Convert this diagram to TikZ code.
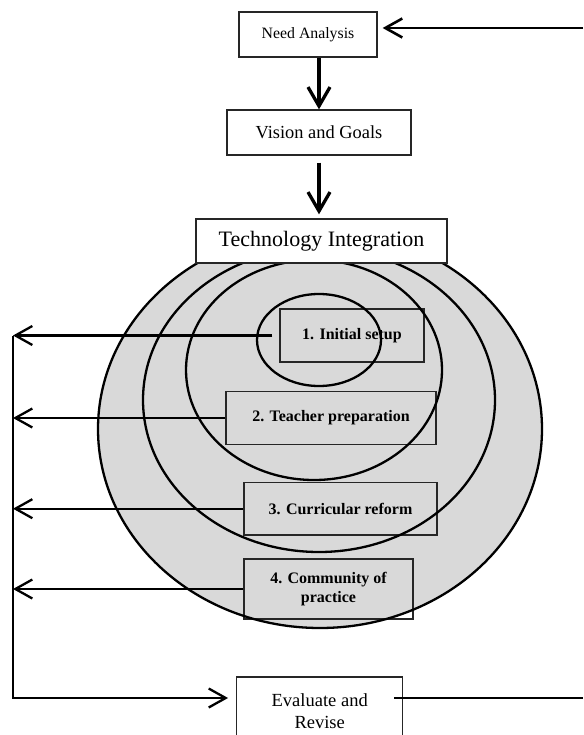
\documentclass[tikz,border=0pt]{standalone}
\usepackage{fontspec}
\setmainfont{Liberation Serif}
\usetikzlibrary{arrows.meta}
\tikzset{
plainbox/.style={draw=black!85, line width=1.3pt, inner sep=0pt, align=center},
stagebox/.style={plainbox, font=\fontsize{16}{18.3}\selectfont\bfseries},
flow/.style={line width=3.3pt, -{Straight Barb[length=19pt,width=22pt]}},
back/.style={line width=2.3pt, -{Straight Barb[length=17pt,width=19pt]}},
ring/.style={line width=2.3pt}
}

\begin{document}
\begin{tikzpicture}[x=1pt,y=-1pt]
\useasboundingbox (0,0) rectangle (583,735);
% grey disc:
\fill[black!15] (320,429) ellipse [x radius=222pt, y radius=199pt];
% stages:
\node[stagebox, minimum width=144pt, minimum height=53pt] (s1) at (352,335.5) {1. Initial setup};
\node[stagebox, minimum width=210pt, minimum height=52.6pt] (s2) at (331,418) {2. Teacher preparation};
\node[stagebox, minimum width=193pt, minimum height=52.7pt] (s3) at (340.5,508.7) {3. Curricular reform};
\node[stagebox, minimum width=169pt, minimum height=60pt] (s4) at (328.5,589) {4. Community of\\practice};
% rings:
\draw[ring] (320,429) ellipse [x radius=222pt, y radius=199pt];
\draw[ring] (319,400) ellipse [x radius=176pt, y radius=152pt];
\draw[ring] (314,370) ellipse [x radius=128pt, y radius=110pt];
\draw[ring] (319,340) ellipse [x radius=62pt, y radius=46pt];
% top boxes:
\node[plainbox, minimum width=138pt, minimum height=45pt, font=\fontsize{15.8}{18}\selectfont] (need) at (308,34.5) {Need Analysis};
\node[plainbox, minimum width=184pt, minimum height=45pt, font=\fontsize{18.4}{21}\selectfont] (vis) at (319,132.5) {Vision and Goals};
\node[plainbox, fill=white, minimum width=251pt, minimum height=44pt, font=\fontsize{22}{25}\selectfont] (tech) at (321.5,241) {Technology Integration};
\node[plainbox, minimum width=166pt, minimum height=68pt, font=\fontsize{18.5}{21.7}\selectfont] (eval) at (319.7,711) {Evaluate and\\Revise};
% loose ends:
\coordinate (needR) at (583,28);
\coordinate (rail) at (13,698);
\coordinate (evalR) at (583,698);
% arrows:
\draw[flow] (need.south -| vis.north) -- (vis.north);
\draw[flow, shorten <=7pt, shorten >=4pt] (vis.south) -- (vis.south |- tech.north);
\draw[back, line width=2.6pt, shorten >=5pt] (needR) -- (needR -| need.east);
\draw[back, shorten <=7pt] (s1.west) -- (s1.west -| rail);
\draw[back] (s2.west) -- (s2.west -| rail);
\draw[back] (s3.west) -- (s3.west -| rail);
\draw[back] (s4.west) -- (s4.west -| rail);
\draw[back, shorten >=8pt] (s1.west -| rail) -- (rail) -- (rail -| eval.west);
\draw[line width=1.5pt] ([xshift=-9pt]eval.east |- evalR) -- (evalR);
\end{tikzpicture}
\end{document}
